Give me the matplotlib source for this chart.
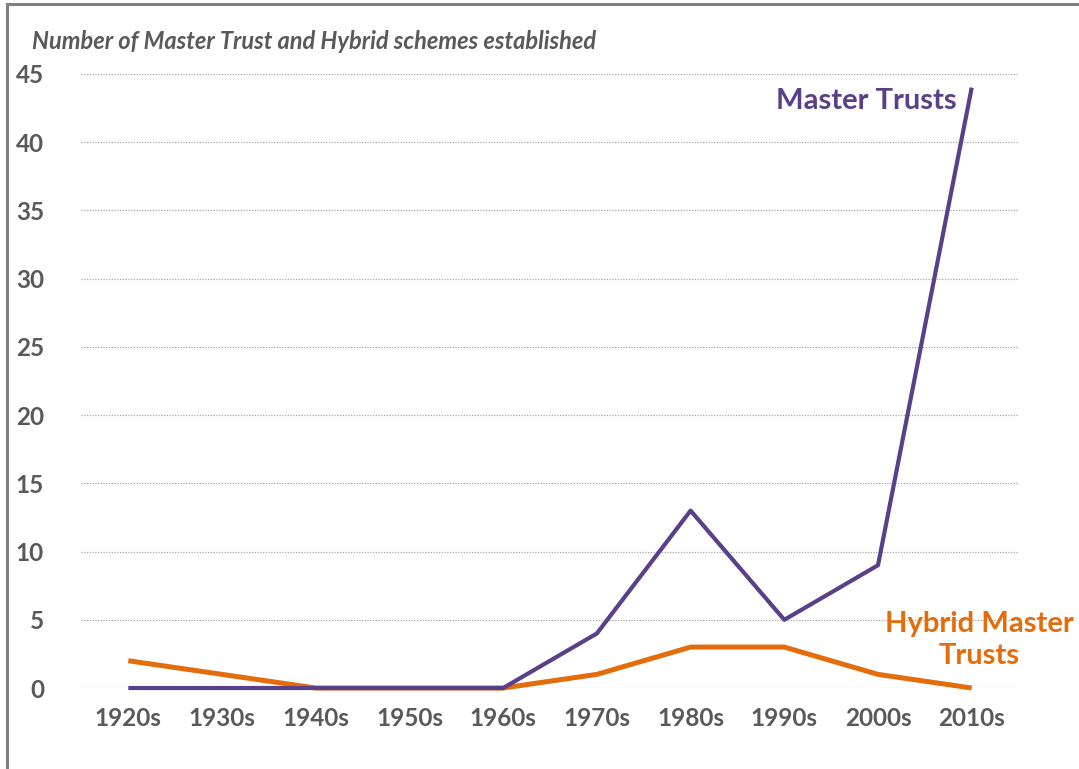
import matplotlib
matplotlib.use("Agg")
import matplotlib.pyplot as plt
from matplotlib.lines import Line2D

decades = ["1920s", "1930s", "1940s", "1950s", "1960s", "1970s", "1980s", "1990s", "2000s", "2010s"]
master_trusts = [0, 0, 0, 0, 0, 4, 13, 5, 9, 44]
hybrid_trusts = [2, 1, 0, 0, 0, 1, 3, 3, 1, 0]
y_ticks = [0, 5, 10, 15, 20, 25, 30, 35, 40, 45]

PURPLE = "#5B4089"
ORANGE = "#E46C0A"
GRAY = "#595959"

plt.rcParams['font.family'] = ['Lato', 'DejaVu Sans']

fig = plt.figure(figsize=(10.79, 7.69), dpi=100)
ax = fig.add_axes([0.0755, 0.1053, 0.8685, 0.7985])

x = list(range(len(decades)))
ax.plot(x, hybrid_trusts, color=ORANGE, lw=3.6, clip_on=False, zorder=3, solid_capstyle='butt')
ax.plot(x, master_trusts, color=PURPLE, lw=3.0, clip_on=False, zorder=4, solid_capstyle='butt')

ax.set_xlim(-0.5, 9.5)
ax.set_ylim(0, 45)
ax.set_yticks(y_ticks)
ax.set_xticks(x)
ax.set_xticklabels(decades)
ax.grid(axis='y', color='#A6A6A6', linestyle=(0, (1, 1.2)), linewidth=0.9)
ax.set_axisbelow(True)
for s in ax.spines.values():
    s.set_visible(False)
ax.tick_params(length=0, labelsize=17.5, labelcolor=GRAY, pad=14)
ax.tick_params(axis='y', pad=27)
for lbl in ax.get_xticklabels() + ax.get_yticklabels():
    lbl.set_fontweight('bold')

fig.text(0.030, 0.946, "Number of Master Trust and Hybrid schemes established",
         fontsize=17, fontweight='bold', fontstyle='italic', color=GRAY,
         ha='left', va='center')

ax.text(8.84, 43.0, "Master Trusts", color=PURPLE, fontsize=21, fontweight='bold',
        ha='right', va='center')
ax.text(9.08, 3.5, "Hybrid Master\nTrusts", color=ORANGE, fontsize=21, fontweight='bold',
        ha='center', va='center', linespacing=1.3, clip_on=False)

# frame lines at top and left of the figure
fig.add_artist(Line2D([0.0065, 1.0], [0.9945, 0.9945], transform=fig.transFigure, color='#808080', lw=2.2))
fig.add_artist(Line2D([0.0065, 0.0065], [0.0, 0.9945], transform=fig.transFigure, color='#808080', lw=2.2))

fig.savefig("out.png", dpi=100)
